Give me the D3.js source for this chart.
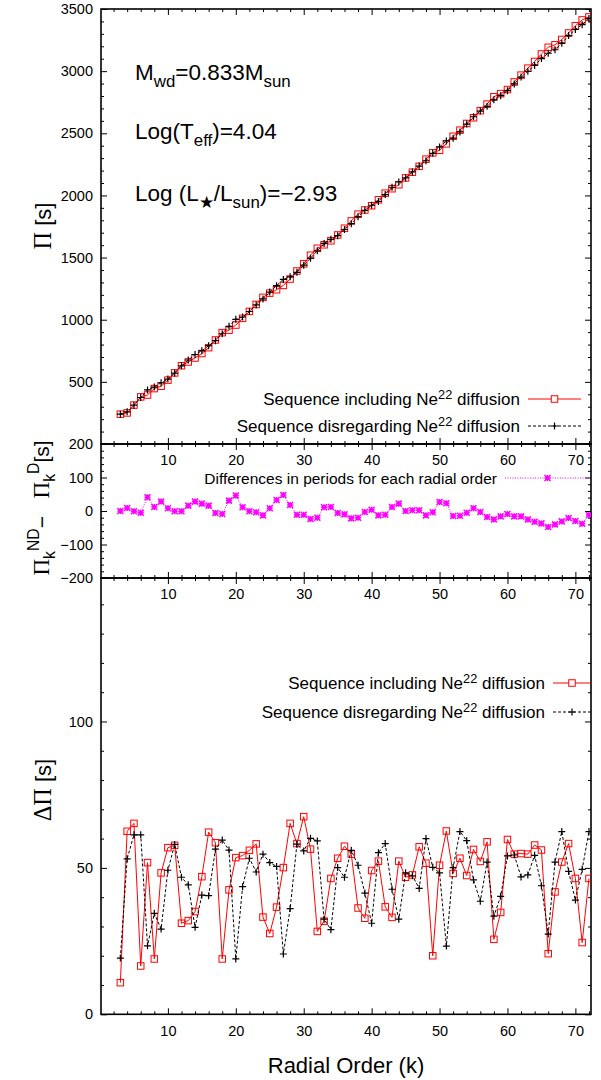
<!DOCTYPE html>
<html><head><meta charset="utf-8">
<script src="https://cdn.jsdelivr.net/npm/d3@7"></script>
<style>body{margin:0;background:#fff} svg{display:block;font-family:"Liberation Sans",Arial,sans-serif}</style>
</head><body><svg id="c" width="601" height="1080"></svg>
<script>
// ---------- data ----------
const radialOrder = [3,4,5,6,7,8,9,10,11,12,13,14,15,16,17,18,19,20,21,22,23,24,25,26,27,28,29,30,31,32,33,34,35,36,37,38,39,40,41,42,43,44,45,46,47,48,49,50,51,52,53,54,55,56,57,58,59,60,61,62,63,64,65,66,67,68,69,70,71,72];
// periods [s], sequence including Ne22 diffusion (red squares)
const periodWithDiff = [240,250,313,379,394,446,465,514,572,630,660,692,728,775,837,896,916,957,1011,1067,1123,1180,1214,1241,1276,1327,1392,1450,1519,1575,1603,1635,1682,1736,1795,1849,1883,1917,1965,2018,2054,2086,2141,2187,2234,2292,2343,2363,2415,2476,2525,2579,2625,2682,2735,2794,2819,2852,2913,2968,3024,3078,3138,3192,3212,3255,3307,3365,3412,3436];
// periods [s], sequence disregarding Ne22 diffusion (black plus)
const periodNoDiff = [240,259,312,374,435,458,493,522,571,629,676,720,750,791,831,887,947,1003,1022,1066,1119,1167,1222,1274,1324,1345,1381,1439,1495,1555,1614,1647,1676,1726,1773,1829,1880,1921,1952,2007,2066,2108,2141,2189,2236,2279,2339,2390,2438,2461,2511,2574,2633,2679,2717,2769,2803,2843,2897,2952,2999,3046,3101,3144,3172,3224,3286,3335,3374,3424];
// Pi_k^ND - Pi_k^D [s]
const periodDifference = [0,9,-1,-5,41,12,28,8,-1,-1,16,28,22,16,-6,-9,31,46,11,-1,-4,-13,8,33,48,18,-11,-11,-24,-20,11,12,-6,-10,-22,-20,-3,4,-13,-11,12,22,0,2,2,-13,-4,27,23,-15,-14,-5,8,-3,-18,-25,-16,-9,-16,-16,-25,-32,-37,-48,-40,-31,-21,-30,-38,-12];
// period spacing [s]
const spacingWithDiff = [10.8,62.5,65.2,16.5,51.8,18.9,48.3,56.9,57.7,31.1,32.0,35.1,47.0,62.2,58.6,18.9,42.5,53.5,54.2,56.0,58.2,33.2,27.6,36.6,50.1,65.2,58.3,67.5,56.4,28.3,31.8,46.4,53.3,57.4,54.7,36.3,32.8,49.1,52.3,36.7,33.1,52.3,46.8,47.6,57.2,51.6,20.0,50.9,62.6,48.1,53.3,47.4,56.3,52.2,58.9,25.6,34.8,59.7,54.7,54.9,54.7,57.8,56.1,20.7,41.8,52.0,58.3,46.4,24.5,46.4];
const spacingNoDiff = [19.2,53.1,61.3,61.3,23.4,34.5,29.1,49.2,58.0,46.8,44.2,29.7,40.7,40.5,56.4,59.5,56.1,18.9,43.6,53.3,48.6,54.7,51.8,50.5,20.6,36.1,58.1,55.8,60.1,59.2,32.5,28.9,50.1,46.8,56.0,50.9,41.4,31.1,55.2,58.3,42.7,32.5,48.3,47.3,43.0,60.0,50.2,48.3,23.3,50.1,62.4,59.3,45.9,38.6,52.0,33.5,40.3,54.1,54.4,46.9,47.6,54.3,43.9,27.4,52.0,62.4,48.8,39.0,49.5,62.4];

const xTicks = [10,20,30,40,50,60,70];
const xMinor = [2,4,6,8,12,14,16,18,22,24,26,28,32,34,36,38,42,44,46,48,52,54,56,58,62,64,66,68,72];
const topTicks = [500,1000,1500,2000,2500,3000,3500];
const topMinor = [100,200,300,400,600,700,800,900,1100,1200,1300,1400,1600,1700,1800,1900,2100,2200,2300,2400,2600,2700,2800,2900,3100,3200,3300,3400];
const midTicks = [-200,-100,0,100,200];
const midMinor = [-180,-160,-140,-120,-80,-60,-40,-20,20,40,60,80,120,140,160,180];
const botTicks = [0,50,100];
const botMinor = [10,20,30,40,60,70,80,90,110,120,130,140];

// ---------- layout ----------
const svg = d3.select("#c");
const L = 101, R = 591;
const x = d3.scaleLinear().domain([0.15, 72.3]).range([L, R]);
const yTop = d3.scaleLinear().domain([0, 3500]).range([444, 9]);
const yMid = d3.scaleLinear().domain([-200, 200]).range([578, 444]);
const yBot = d3.scaleLinear().domain([0, 149]).range([1014.3, 578]);

const RED = "#ff0000", MAG = "#ff00ff";

function panel(y, yt, ym, id) {
  const g = svg.append("g");
  const [y0, y1] = y.range();
  g.append("clipPath").attr("id", id).append("rect")
    .attr("x", L).attr("y", y1).attr("width", R - L).attr("height", y0 - y1);
  const axes = [
    [d3.axisLeft(y).tickValues(yt).tickSize(-6).tickPadding(8).tickFormat(d3.format("d")), `translate(${L},0)`],
    [d3.axisLeft(y).tickValues(ym).tickSize(-3).tickFormat(""), `translate(${L},0)`],
    [d3.axisRight(y).tickValues(yt).tickSize(-6).tickFormat(""), `translate(${R},0)`],
    [d3.axisRight(y).tickValues(ym).tickSize(-3).tickFormat(""), `translate(${R},0)`],
    [d3.axisBottom(x).tickValues(xTicks).tickSize(-6).tickPadding(11).tickFormat(d3.format("d")), `translate(0,${y0})`],
    [d3.axisBottom(x).tickValues(xMinor).tickSize(-3).tickFormat(""), `translate(0,${y0})`],
    [d3.axisTop(x).tickValues(xTicks).tickSize(-6).tickFormat(""), `translate(0,${y1})`],
    [d3.axisTop(x).tickValues(xMinor).tickSize(-3).tickFormat(""), `translate(0,${y1})`]
  ];
  axes.forEach(([a, t]) => {
    const ag = g.append("g").attr("transform", t).call(a);
    ag.select(".domain").remove();
    ag.selectAll("line").attr("stroke", "#000").attr("stroke-width", 1);
    ag.selectAll("text").attr("font-size", 14.5).attr("fill", "#000")
      .attr("font-family", "Liberation Sans, Arial, sans-serif");
  });
  g.append("rect").attr("x", L).attr("y", y1).attr("width", R - L).attr("height", y0 - y1)
    .attr("fill", "none").attr("stroke", "#000").attr("stroke-width", 1.6);
  return g;
}

const gTop = panel(yTop, topTicks, topMinor, "cTop");
const gMid = panel(yMid, midTicks, midMinor, "cMid");
const gBot = panel(yBot, botTicks, botMinor, "cBot");

// ---------- markers ----------
function squares(g, xs, ys, y, s) {
  g.selectAll(null).data(xs).join("rect")
    .attr("x", (d) => x(d) - s / 2).attr("y", (d, i) => y(ys[i]) - s / 2)
    .attr("width", s).attr("height", s).attr("fill", "none").attr("stroke", RED).attr("stroke-width", 1);
}
function pluses(g, xs, ys, y, s) {
  g.selectAll(null).data(xs).join("path")
    .attr("d", (d, i) => { const cx = x(d), cy = y(ys[i]); return `M${cx - s},${cy}H${cx + s}M${cx},${cy - s}V${cy + s}`; })
    .attr("stroke", "#000").attr("stroke-width", 1.2).attr("fill", "none");
}
function stars(g, xs, ys, y, s) {
  g.selectAll(null).data(xs).join("path")
    .attr("d", (d, i) => { const cx = x(d), cy = y(ys[i]);
      return `M${cx - s},${cy}H${cx + s}M${cx},${cy - s}V${cy + s}M${cx - s},${cy - s}L${cx + s},${cy + s}M${cx - s},${cy + s}L${cx + s},${cy - s}`; })
    .attr("stroke", MAG).attr("stroke-width", 1.5).attr("fill", "none");
}
function line(g, xs, ys, y, color, dash) {
  g.append("path").datum(xs)
    .attr("d", d3.line().x((d) => x(d)).y((d, i) => y(ys[i])))
    .attr("fill", "none").attr("stroke", color).attr("stroke-width", 1)
    .attr("stroke-dasharray", dash);
}

// top panel
const dTop = gTop.append("g").attr("clip-path", "url(#cTop)");
line(dTop, radialOrder, periodWithDiff, yTop, RED, null);
squares(dTop, radialOrder, periodWithDiff, yTop, 6.5);
line(dTop, radialOrder, periodNoDiff, yTop, "#000", "3,2");
pluses(dTop, radialOrder, periodNoDiff, yTop, 3.5);

// middle panel
const dMid = gMid.append("g").attr("clip-path", "url(#cMid)");
line(dMid, radialOrder, periodDifference, yMid, MAG, "1,1.5");
stars(dMid, radialOrder, periodDifference, yMid, 3);

// bottom panel
const dBot = gBot.append("g").attr("clip-path", "url(#cBot)");
line(dBot, radialOrder, spacingWithDiff, yBot, RED, null);
squares(dBot, radialOrder, spacingWithDiff, yBot, 6.5);
line(dBot, radialOrder, spacingNoDiff, yBot, "#000", "3,2");
pluses(dBot, radialOrder, spacingNoDiff, yBot, 3.5);

// ---------- legends ----------
function legendText(g, xEnd, yc, parts, fs) {
  const t = g.append("text").attr("x", xEnd).attr("y", yc + fs * 0.36).attr("text-anchor", "end")
    .attr("font-size", fs).attr("fill", "#000");
  parts.forEach(([s, kind]) => {
    const ts = t.append("tspan").text(s);
    if (kind === "sup") ts.attr("font-size", fs * 0.75).attr("dy", -fs * 0.38);
    if (kind === "back") ts.attr("dy", fs * 0.38);
  });
}
const incParts = [["Sequence including Ne"], ["22", "sup"], [" diffusion", "back"]];
const disParts = [["Sequence disregarding Ne"], ["22", "sup"], [" diffusion", "back"]];

function legendSample(g, x0, x1, yc, kind) {
  const xm = (x0 + x1) / 2;
  if (kind === "red") {
    g.append("line").attr("x1", x0).attr("x2", x1).attr("y1", yc).attr("y2", yc).attr("stroke", RED);
    g.append("rect").attr("x", xm - 3.25).attr("y", yc - 3.25).attr("width", 6.5).attr("height", 6.5).attr("fill", "#fff").attr("stroke", RED);
  } else if (kind === "black") {
    g.append("line").attr("x1", x0).attr("x2", x1).attr("y1", yc).attr("y2", yc).attr("stroke", "#000").attr("stroke-dasharray", "3,2");
    g.append("path").attr("d", `M${xm - 3.5},${yc}H${xm + 3.5}M${xm},${yc - 3.5}V${yc + 3.5}`).attr("stroke", "#000").attr("stroke-width", 1.2);
  } else {
    g.append("line").attr("x1", x0).attr("x2", x1).attr("y1", yc).attr("y2", yc).attr("stroke", MAG).attr("stroke-dasharray", "1,1.5");
    const s = 3;
    g.append("path").attr("d", `M${xm - s},${yc}H${xm + s}M${xm},${yc - s}V${yc + s}M${xm - s},${yc - s}L${xm + s},${yc + s}M${xm - s},${yc + s}L${xm + s},${yc - s}`)
      .attr("stroke", MAG).attr("stroke-width", 1.5);
  }
}
legendText(svg, 520, 399, incParts, 17);
legendSample(svg, 528, 581, 399, "red");
legendText(svg, 520, 426, disParts, 17);
legendSample(svg, 528, 581, 426, "black");

legendText(svg, 497, 478, [["Differences in periods for each radial order"]], 15.5);
legendSample(svg, 505, 590, 478, "mag");

legendText(svg, 545, 683, incParts, 17);
legendSample(svg, 553, 591, 683, "red");
legendText(svg, 545, 712, disParts, 17);
legendSample(svg, 553, 591, 712, "black");

// ---------- annotations ----------
function rich(g, x0, y0, parts, fs) {
  const t = g.append("text").attr("x", x0).attr("y", y0).attr("font-size", fs).attr("fill", "#000");
  let shift = 0;
  parts.forEach(([s, kind]) => {
    const ts = t.append("tspan").text(s);
    let target = 0;
    if (kind === "sub") { ts.attr("font-size", fs * 0.75); target = fs * 0.3; }
    if (kind === "sup") { ts.attr("font-size", fs * 0.75); target = -fs * 0.45; }
    ts.attr("dy", target - shift); shift = target;
  });
  return t;
}
rich(svg, 135, 80, [["M"], ["wd", "sub"], ["=0.833M"], ["sun", "sub"]], 22.5);
rich(svg, 135, 139, [["Log(T"], ["eff", "sub"], [")=4.04"]], 22.5);
rich(svg, 135, 201, [["Log (L"], ["\u2605", "sub"], ["/L"], ["sun", "sub"], [")=\u22122.93"]], 22.5);

// ---------- axis titles ----------
function vtitle(cx, cy, parts, fs) {
  const t = svg.append("text").attr("transform", `translate(${cx},${cy}) rotate(-90)`)
    .attr("text-anchor", "middle").attr("font-size", fs).attr("fill", "#000");
  let shift = 0;
  parts.forEach(([s, kind, serif]) => {
    const ts = t.append("tspan").text(s);
    if (serif) ts.attr("font-family", "Liberation Serif, Times New Roman, serif").attr("font-size", fs * 1.1);
    let target = 0;
    if (kind === "sub") { ts.attr("font-size", fs * 0.75); target = fs * 0.3; }
    if (kind === "sup") { ts.attr("font-size", fs * 0.75); target = -fs * 0.5; }
    ts.attr("dy", target - shift); shift = target;
  });
}
vtitle(51, 226, [["\u03a0", null, true], [" [s]"]], 22);
vtitle(49, 508, [["\u03a0", null, true], ["k", "sub"], ["ND", "sup"], ["\u2212\u00a0\u00a0\u00a0"], ["\u03a0", null, true], ["k", "sub"], ["D", "sup"], ["[s]"]], 21);
vtitle(51, 790, [["\u0394\u03a0", null, true], [" [s]"]], 22);

svg.append("text").attr("x", 346).attr("y", 1073).attr("text-anchor", "middle")
  .attr("font-size", 22).attr("fill", "#000").text("Radial Order (k)");
</script>
</body></html>
